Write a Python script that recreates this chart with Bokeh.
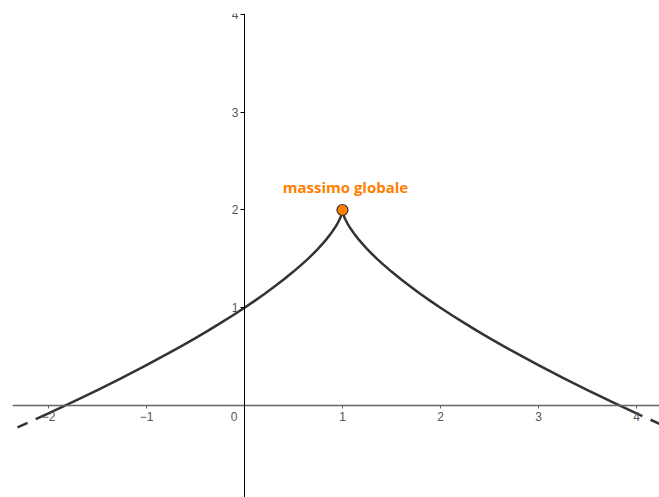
from bokeh.plotting import figure
from bokeh.models import LinearAxis, FixedTicker, ColumnDataSource
from bokeh.core.properties import value
from bokeh.embed import file_html
from bokeh.resources import INLINE

# Sampled points of the curve (solid part), left branch then right branch
curve_x = [-2.13, -2.0, -1.75, -1.5, -1.25, -1.0, -0.75, -0.625, -0.5, -0.375,
           -0.25, -0.125, 0.0, 0.1, 0.2, 0.3, 0.4, 0.5, 0.55, 0.6, 0.65, 0.7,
           0.75, 0.8, 0.84, 0.87, 0.9, 0.93, 0.95, 0.97, 0.98, 0.99, 0.995, 1.0,
           1.005, 1.01, 1.02, 1.03, 1.05, 1.07, 1.1, 1.13, 1.16, 1.2, 1.25, 1.3,
           1.35, 1.4, 1.45, 1.5, 1.6, 1.7, 1.8, 1.9, 2.0, 2.125, 2.25, 2.375,
           2.5, 2.625, 2.75, 3.0, 3.25, 3.5, 3.75, 4.0, 4.06]
curve_y = [-0.140, -0.080, 0.037, 0.158, 0.283, 0.413, 0.548, 0.618, 0.690, 0.763,
           0.840, 0.918, 1.000, 1.068, 1.138, 1.212, 1.289, 1.370, 1.413, 1.457, 1.503, 1.552,
           1.603, 1.658, 1.705, 1.743, 1.785, 1.830, 1.864, 1.903, 1.926, 1.954, 1.971, 2.000,
           1.971, 1.954, 1.926, 1.903, 1.864, 1.830, 1.785, 1.743, 1.705, 1.658, 1.603, 1.552,
           1.503, 1.457, 1.413, 1.370, 1.289, 1.212, 1.138, 1.068, 1.000, 0.918, 0.840, 0.763,
           0.690, 0.618, 0.548, 0.413, 0.283, 0.158, 0.037, -0.080, -0.108]

# Continuations beyond the drawn interval (dashed)
tail_left_x = [-2.13, -2.2, -2.31, -2.4]
tail_left_y = [-0.140, -0.172, -0.221, -0.261]
tail_right_x = [4.06, 4.14, 4.3]
tail_right_y = [-0.108, -0.144, -0.217]

# Global maximum
max_x = [1.0]
max_y = [2.0]
max_label = ["massimo globale"]

# Axis ticks
x_ticks = [-2, -1, 1, 2, 3, 4]
y_ticks = [1, 2, 3, 4]
origin_label = ["0"]

ORANGE = "#FF7F00"
CURVE = "#333333"
TICK_TEXT = "#555555"

p = figure(width=659, height=497, output_backend="svg", toolbar_location=None,
           x_range=(-2.367, 4.235), y_range=(-0.941, 4.010),
           x_axis_location=None, y_axis_location=None,
           min_border_left=12, min_border_top=13, min_border_right=0, min_border_bottom=0)
p.grid.visible = False
p.outline_line_color = None
p.background_fill_color = "white"
p.border_fill_color = "white"

xaxis = LinearAxis(fixed_location=0, ticker=FixedTicker(ticks=x_ticks),
                   major_label_overrides={-2: "\u22122", -1: "\u22121"})
xaxis.axis_line_color = "#666666"
xaxis.axis_line_width = 1.5
xaxis.major_tick_line_color = "#666666"
xaxis.major_tick_in = 0
xaxis.major_tick_out = 3
xaxis.minor_tick_line_color = None
xaxis.major_label_standoff = 3
xaxis.major_label_text_font = "Liberation Sans"
xaxis.major_label_text_font_size = "12px"
xaxis.major_label_text_color = TICK_TEXT
p.add_layout(xaxis, "below")

yaxis = LinearAxis(fixed_location=0, ticker=FixedTicker(ticks=y_ticks))
yaxis.axis_line_color = "black"
yaxis.axis_line_width = 1
yaxis.major_tick_line_color = "black"
yaxis.major_tick_in = 0
yaxis.major_tick_out = 4
yaxis.minor_tick_line_color = None
yaxis.major_label_standoff = 2
yaxis.major_label_text_font = "Liberation Sans"
yaxis.major_label_text_font_size = "12px"
yaxis.major_label_text_color = TICK_TEXT
p.add_layout(yaxis, "left")

# Origin label
p.text(x=[0], y=[0], text=origin_label, x_offset=-10.5, y_offset=11,
       text_align="center", text_baseline="middle",
       text_font=value("Liberation Sans"), text_font_size="12px",
       text_color=TICK_TEXT)

# Curve
p.line(curve_x, curve_y, line_color=CURVE, line_width=2.5, line_join="round")
p.line(tail_left_x, tail_left_y, line_color=CURVE, line_width=2.5,
       line_dash="11 9", line_dash_offset=11)
p.line(tail_right_x, tail_right_y, line_color=CURVE, line_width=2.5,
       line_dash="11 9", line_dash_offset=11)

# Maximum point and its label
src = ColumnDataSource(dict(x=max_x, y=max_y, label=max_label))
p.scatter("x", "y", source=src, size=11, fill_color=ORANGE,
          line_color="#333333", line_width=1.2)
p.text("x", "y", text="label", source=src, x_offset=3, y_offset=-23,
       text_align="center", text_baseline="middle",
       text_font=value("Open Sans"), text_font_style="bold", text_font_size="15px",
       text_color=ORANGE)

open("out.html", "w").write(file_html(p, INLINE))
